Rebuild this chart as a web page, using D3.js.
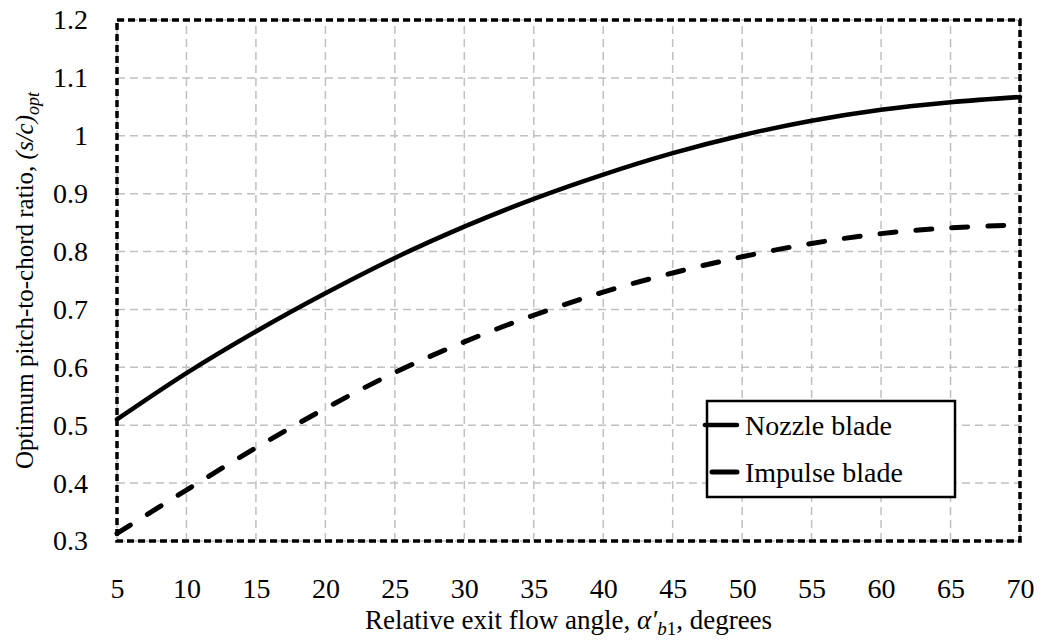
<!DOCTYPE html>
<html>
<head>
<meta charset="utf-8">
<script src="https://cdn.jsdelivr.net/npm/d3@7"></script>
<style>
  body { margin: 0; background: #fff; }
</style>
</head>
<body>
<div id="chart"></div>
<script>
// data
var angles = [5, 10, 15, 20, 25, 30, 35, 40, 45, 50, 55, 60, 65, 70];
var nozzle = [0.51, 0.59, 0.662, 0.728, 0.789, 0.843, 0.891, 0.933, 0.97, 1.001, 1.026, 1.045, 1.058, 1.067];
var impulse = [0.313, 0.388, 0.461, 0.529, 0.591, 0.644, 0.69, 0.73, 0.763, 0.791, 0.814, 0.831, 0.841, 0.846];
var xTicks = [5, 10, 15, 20, 25, 30, 35, 40, 45, 50, 55, 60, 65, 70];
var yTicks = [0.3, 0.4, 0.5, 0.6, 0.7, 0.8, 0.9, 1.0, 1.1, 1.2];

var FONT = '"Liberation Serif", "Times New Roman", "DejaVu Serif", serif';
var width = 1045, height = 642;
var margin = { left: 117, right: 25, top: 20, bottom: 101 };

var svg = d3.select('#chart')
    .append('svg')
    .attr('width', width)
    .attr('height', height)
    .style('font-family', FONT);

var x = d3.scaleLinear().domain([5, 70]).range([margin.left, width - margin.right]);
var y = d3.scaleLinear().domain([0.3, 1.2]).range([height - margin.bottom, margin.top]);

// grid
svg.append('g').selectAll('line')
    .data(xTicks)
    .enter().append('line')
    .attr('x1', function (d) { return x(d); })
    .attr('x2', function (d) { return x(d); })
    .attr('y1', y(0.3)).attr('y2', y(1.2))
    .attr('stroke', '#c0c0c0')
    .attr('stroke-width', 1.5)
    .attr('stroke-dasharray', '8,5');

svg.append('g').selectAll('line')
    .data(yTicks)
    .enter().append('line')
    .attr('y1', function (d) { return y(d); })
    .attr('y2', function (d) { return y(d); })
    .attr('x1', x(5)).attr('x2', x(70))
    .attr('stroke', '#c0c0c0')
    .attr('stroke-width', 1.5)
    .attr('stroke-dasharray', '8,5');

// axes (labels only)
var xAxis = svg.append('g')
    .attr('transform', 'translate(0,' + (y(0.3) + 34) + ')')
    .call(d3.axisBottom(x).tickValues(xTicks).tickSize(0).tickFormat(d3.format('d')));
xAxis.attr('font-family', null).attr('font-size', null);
xAxis.select('.domain').remove();
xAxis.selectAll('text')
    .style('font-family', FONT).style('font-size', '28px').attr('fill', '#000')
    .attr('dy', '0.71em');

var yAxis = svg.append('g')
    .attr('transform', 'translate(' + (x(5) - 26) + ',0)')
    .call(d3.axisLeft(y).tickValues(yTicks).tickSize(0).tickFormat(function (d) {
        return d === 1 ? '1' : d3.format('.1f')(d);
    }));
yAxis.attr('font-family', null).attr('font-size', null);
yAxis.select('.domain').remove();
yAxis.selectAll('text')
    .style('font-family', FONT).style('font-size', '28px').attr('fill', '#000')
    .attr('dy', '0.32em');

// curves
var line = d3.line()
    .x(function (d, i) { return x(angles[i]); })
    .y(function (d) { return y(d); })
    .curve(d3.curveCatmullRom);

svg.append('path')
    .datum(nozzle)
    .attr('d', line)
    .attr('fill', 'none')
    .attr('stroke', '#000')
    .attr('stroke-width', 4.5)
    .attr('stroke-linecap', 'round');

svg.append('path')
    .datum(impulse)
    .attr('d', line)
    .attr('fill', 'none')
    .attr('stroke', '#000')
    .attr('stroke-width', 5)
    .attr('stroke-linecap', 'round')
    .attr('stroke-dasharray', '16,20');

// dotted plot border
svg.append('rect')
    .attr('x', x(5)).attr('y', y(1.2))
    .attr('width', x(70) - x(5))
    .attr('height', y(0.3) - y(1.2))
    .attr('fill', 'none')
    .attr('stroke', '#000')
    .attr('stroke-width', 3.5)
    .attr('stroke-dasharray', '7,4');

// legend
var lg = svg.append('g');
lg.append('rect')
    .attr('x', 707).attr('y', 401)
    .attr('width', 248).attr('height', 96)
    .attr('fill', '#fff')
    .attr('stroke', '#000')
    .attr('stroke-width', 2.5);

var legendItems = [
    { label: 'Nozzle blade', dash: false, yy: 425 },
    { label: 'Impulse blade', dash: true, yy: 472 }
];
legendItems.forEach(function (d) {
    lg.append('line')
        .attr('x1', d.dash ? 712 : 705).attr('x2', 737)
        .attr('y1', d.yy).attr('y2', d.yy)
        .attr('stroke', '#000')
        .attr('stroke-width', d.dash ? 5 : 4.5)
        .attr('stroke-linecap', 'round');
    lg.append('text')
        .attr('x', 745).attr('y', d.yy)
        .attr('dy', '0.35em')
        .style('font-size', '28px')
        .text(d.label);
});

// axis titles
var xt = svg.append('text')
    .attr('x', (x(5) + x(70)) / 2)
    .attr('y', 629)
    .attr('text-anchor', 'middle')
    .style('font-size', '27px');
xt.append('tspan').text('Relative exit flow angle, ');
xt.append('tspan').style('font-style', 'italic').text('\u03b1\u2032');
xt.append('tspan').style('font-style', 'italic').style('font-size', '19px').attr('dy', 6).text('b');
xt.append('tspan').style('font-size', '19px').text('1');
xt.append('tspan').attr('dy', -6).text(', degrees');

var yt = svg.append('text')
    .attr('transform', 'translate(33,' + ((y(0.3) + y(1.2)) / 2) + ') rotate(-90)')
    .attr('text-anchor', 'middle')
    .style('font-size', '25px');
yt.append('tspan').text('Optimum pitch-to-chord ratio, ');
yt.append('tspan').style('font-style', 'italic').text('(s/c)');
yt.append('tspan').style('font-style', 'italic').style('font-size', '18px').attr('dy', 6).text('opt');
</script>
</body>
</html>
